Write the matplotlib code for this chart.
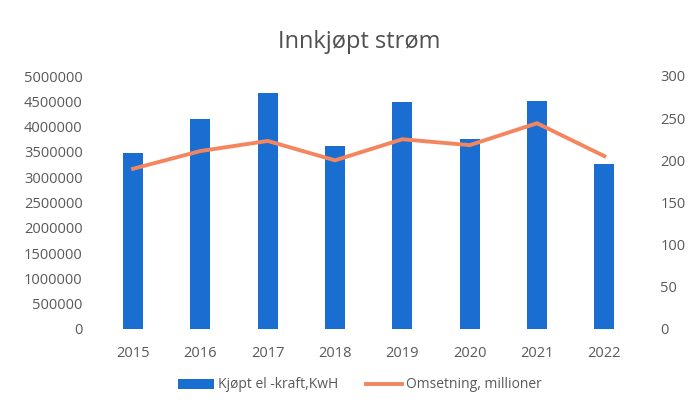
import matplotlib
matplotlib.use("Agg")
import matplotlib.pyplot as plt

years = ["2015", "2016", "2017", "2018", "2019", "2020", "2021", "2022"]
kwh = [3480000, 4150000, 4660000, 3620000, 4490000, 3750000, 4510000, 3260000]
omsetning = [190, 211, 223, 200, 225, 218, 244, 205]

plt.rcParams['font.family'] = ['Open Sans', 'DejaVu Sans']
txt = '#595959'

fig = plt.figure(figsize=(6.89, 4.16), dpi=100)
W, H = 689, 416
ax = fig.add_axes([99.4 / W, 1 - 329 / H, (638 - 99.4) / W, (329 - 76) / H])
x = list(range(len(years)))
ax.bar(x, kwh, width=0.3, color='#1a6ed2', label='Kjøpt el -kraft,KwH', zorder=2)
ax.set_xlim(-0.5, len(years) - 0.5)
ax.set_ylim(0, 5000000)
ax.set_yticks(range(0, 5000001, 500000))
ax.set_yticklabels([str(v) for v in range(0, 5000001, 500000)])
ax.set_xticks(x)
ax.set_xticklabels(years)
for s in ax.spines.values():
    s.set_visible(False)
ax.tick_params(axis='both', length=0, colors=txt, labelsize=10.5)
ax.tick_params(axis='x', pad=12)
ax.tick_params(axis='y', pad=12)

ax2 = ax.twinx()
ax2.plot(x, omsetning, color='#f4865f', lw=2.8, label='Omsetning, millioner', zorder=3)
ax2.set_ylim(0, 300)
ax2.set_yticks(range(0, 301, 50))
for s in ax2.spines.values():
    s.set_visible(False)
ax2.tick_params(axis='y', length=0, colors=txt, labelsize=10.5, pad=16)

fig.text(359 / W, 1 - 42 / H, 'Innkjøpt strøm', ha='center', va='center', fontsize=17, color='#505050')

h1, l1 = ax.get_legend_handles_labels()
h2, l2 = ax2.get_legend_handles_labels()
fig.legend(h1 + h2, l1 + l2, loc='center', bbox_to_anchor=(360 / W, 1 - 385 / H), ncol=2,
           frameon=False, fontsize=10, labelcolor=txt, handlelength=2.6, columnspacing=2.0,
           handletextpad=0.3)

fig.savefig('out.png', dpi=100)
